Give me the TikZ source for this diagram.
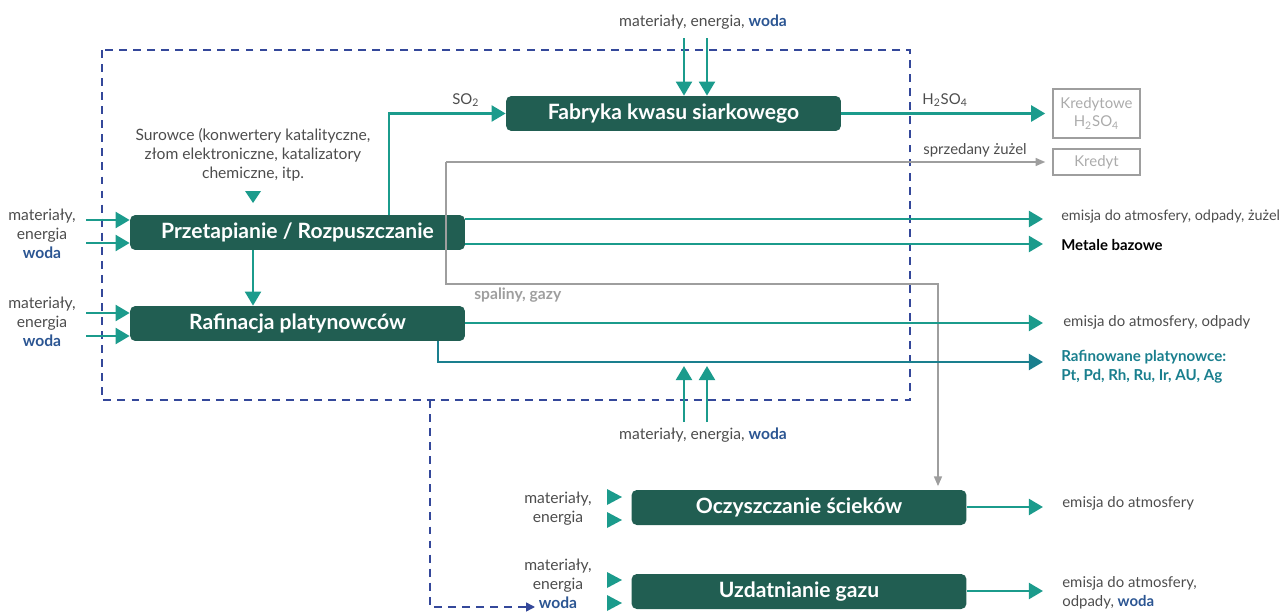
\documentclass[tikz,border=0pt]{standalone}
\usepackage{fontspec}
\setmainfont{Lato}
\usetikzlibrary{arrows.meta}

\definecolor{boxgreen}{HTML}{215E52}
\definecolor{tealc}{HTML}{1B9B8C}
\definecolor{rafblue}{HTML}{1A7F8E}
\definecolor{wodablue}{HTML}{2B5592}
\definecolor{navyd}{HTML}{34489A}
\definecolor{greyl}{HTML}{9E9E9E}
\definecolor{greyt}{HTML}{4D4D4D}
\definecolor{greyk}{HTML}{ABABAB}

\newcommand{\woda}{\textcolor{wodablue}{\bfseries woda}}

\tikzset{
    procbox/.style={fill=boxgreen, rounded corners=3pt, text=white,
        font=\fontsize{12}{14}\selectfont\bfseries,
        minimum width=6.7cm, minimum height=0.7cm, inner sep=0pt},
    flow/.style={draw=tealc, line width=1.6pt, -{Triangle[length=8pt,width=9pt]}},
    greyflow/.style={draw=greyl, line width=0.9pt, -{Triangle[length=5.5pt,width=4.5pt]}},
    note/.style={text=greyt, font=\fontsize{8.9}{10.8}\selectfont, inner sep=0pt, align=center},
    outnote/.style={text=greyt, font=\fontsize{8.5}{10.8}\selectfont, inner sep=0pt, anchor=west, align=left},
    creditbox/.style={draw=greyl, line width=0.8pt, text=greyk,
        font=\fontsize{8.5}{10.5}\selectfont, minimum width=1.74cm, inner sep=0pt, align=center},
    boundary/.style={draw=navyd, line width=0.8pt, dash pattern=on 4.5pt off 3.5pt}
}

\begin{document}
\begin{tikzpicture}[x=0.02cm, y=-0.02cm]
    \useasboundingbox (0,0) rectangle (1286,612);

    % granica zakladu
    \draw [boundary] (102,50) rectangle (910,400);
    \draw [boundary, -{Triangle[length=5pt,width=5pt]}] (430,400) -- (430,607) -- (535,607);

    % procesy
    \node [procbox] (fabryka) at (673.5,113.5) {Fabryka kwasu siarkowego};
    \node [procbox] (przetap) at (297.5,232.5) {Przetapianie / Rozpuszczanie};
    \node [procbox] (rafin) at (297.5,323.5) {Rafinacja platynowców};
    \node [procbox] (oczysz) at (799,507.5) {Oczyszczanie ścieków};
    \node [procbox] (uzdat) at (799,591.5) {Uzdatnianie gazu};

    \node [creditbox, minimum height=0.98cm] (kredH) at (1096.5,113.5) {Kredytowe\\H\textsubscript{2}SO\textsubscript{4}};
    \node [creditbox, minimum height=0.52cm] (kredyt) at (1096.5,162) {Kredyt};

    % fabryka kwasu
    \node [note] (wejF) at (703,22) {materiały, energia, \woda};
    \coordinate (f1) at (684,38);
    \coordinate (f2) at (707,38);
    \draw [flow] (f1) -- (f1 |- fabryka.north);
    \draw [flow] (f2) -- (f2 |- fabryka.north);
    \coordinate (so2) at (389,114);
    \draw [flow] (przetap.north -| so2) |- (fabryka.west);
    \node [outnote] (so2txt) at (452,100) {SO\textsubscript{2}};
    \draw [flow, shorten >=4pt] (fabryka.east) -- (kredH.west);
    \node [outnote] (h2so4txt) at (922,100) {H\textsubscript{2}SO\textsubscript{4}};

    % szare strumienie
    \coordinate (g0) at (446,162);
    \coordinate (g1) at (938,284);
    \draw [greyflow, shorten >=4pt] (g0) -- (kredyt.west);
    \draw [greyflow, shorten >=2pt] (g0) |- (g1) -- (g1 |- oczysz.north);
    \node [outnote] (zuzel) at (923,150) {sprzedany żużel};
    \node [outnote, text=greyl, font=\fontsize{8.9}{10.8}\selectfont\bfseries] (spaliny) at (474,295) {spaliny, gazy};

    % przetapianie
    \node [note] (surowce) at (253,155) {Surowce (konwertery katalityczne,\\złom elektroniczne, katalizatory\\chemiczne, itp.};
    \fill [tealc] (245,191) -- (261,191) -- (253,203) -- cycle;
    \node [note] (wejP) at (42,234) {materiały,\\energia\\\woda};
    \foreach \y in {220,243}
        \draw [flow] (86,\y) -- (przetap.west |- 0,\y);
    \draw [flow] (przetap.south -| 253,0) -- (rafin.north -| 253,0);

    \coordinate (o1) at (1043,219);
    \coordinate (o2) at (1043,244);
    \draw [flow] (przetap.east |- o1) -- (o1);
    \draw [flow] (przetap.east |- o2) -- (o2);
    \node [outnote, font=\fontsize{8.2}{10.8}\selectfont] (emP) at (1061,217) {emisja do atmosfery, odpady, żużel};
    \node [outnote, text=black, font=\fontsize{8.5}{10.8}\selectfont\bfseries] (metale) at (1061,245) {Metale bazowe};

    % rafinacja
    \node [note] (wejR) at (42,322) {materiały,\\energia\\\woda};
    \foreach \y in {313,336}
        \draw [flow] (86,\y) -- (rafin.west |- 0,\y);
    \coordinate (o3) at (1043,323);
    \coordinate (o4) at (1043,362);
    \draw [flow] (rafin.east |- o3) -- (o3);
    \draw [flow, draw=rafblue] (rafin.south -| 438,0) |- (o4);
    \node [outnote] (emR) at (1063,322) {emisja do atmosfery, odpady};
    \node [outnote, text=rafblue, font=\fontsize{8.6}{10.8}\selectfont\bfseries] (rafinowane) at (1061,367) {Rafinowane platynowce:\\Pt, Pd, Rh, Ru, Ir, AU, Ag};

    \node [note] (wejD) at (703,435) {materiały, energia, \woda};
    \coordinate (d1) at (684,422);
    \coordinate (d2) at (707,422);
    \draw [flow] (d1) -- (d1 |- 0,366);
    \draw [flow] (d2) -- (d2 |- 0,366);

    % oczyszczanie i uzdatnianie
    \node [note] (wejO) at (558,509) {materiały,\\energia};
    \node [note] (wejU) at (558,584) {materiały,\\energia\\\woda};
    \foreach \y in {497,520,580,603}
        \fill [tealc] (607,\y-8) -- (622,\y) -- (607,\y+8) -- cycle;
    \coordinate (o5) at (1043,507);
    \coordinate (o6) at (1043,591);
    \draw [flow] (oczysz.east |- o5) -- (o5);
    \draw [flow] (uzdat.east |- o6) -- (o6);
    \node [outnote] (emO) at (1062,503) {emisja do atmosfery};
    \node [outnote] (emU) at (1062,593) {emisja do atmosfery,\\odpady, \woda};
\end{tikzpicture}
\end{document}
